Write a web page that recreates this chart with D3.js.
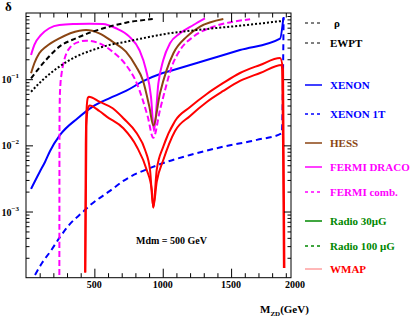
<!DOCTYPE html>
<html>
<head>
<meta charset="utf-8">
<script src="https://cdn.jsdelivr.net/npm/d3@7"></script>
<style>
body{margin:0;background:#fff;}
text{font-family:"Liberation Serif","Times New Roman",serif;font-weight:bold;}
</style>
</head>
<body>
<svg id="plot" width="415" height="320"></svg>
<script>
// curves: [M_ZD (GeV), delta]
var rhoCurve = [[37,0.103],[146,0.195],[244,0.310],[366,0.415],[488,0.522],[607,0.621],[731,0.713],[927,0.811]];
var ewptCurve = [[37,0.0647],[122,0.0973],[244,0.155],[366,0.219],[488,0.276],[609,0.329],[731,0.368],[854,0.415],
    [1000,0.475],[1322,0.573],[1565,0.643],[1880,0.760]];
var xenonCurve = [[37,0.0022],[100,0.00396],[139,0.00561],[176,0.00822],[249,0.01436],[378,0.0257],[488,0.0385],
    [609,0.0514],[731,0.0664],[853,0.0923],[1000,0.124],[1078,0.138],[1322,0.195],[1565,0.276],[1858,0.41],[1882,0.84]];
var xenon1tCurve = [[66,1.10e-4],[117,1.67e-4],[176,2.45e-4],[249,4.13e-4],[322,6.5e-4],[419,9.96e-4],[468,1.24e-3],
    [614,2.05e-3],[712,2.90e-3],[956,4.97e-3],[1200,7.16e-3],[1443,9.55e-3],[1688,1.21e-2],[1871,1.52e-2],[1884,0.87]];
var hessCurve = [[37,0.123],[61,0.174],[97,0.246],[146,0.310],[244,0.415],[390,0.541],[439,0.553],[536,0.493],
    [634,0.368],[731,0.260],[805,0.155],[854,0.0973],[902,0.0385],[931,0.020],[980,0.0612],[1029,0.138],
    [1078,0.246],[1176,0.439],[1273,0.621],[1443,0.811]];
var dracoCurve = [[37,0.232],[61,0.329],[110,0.466],[170,0.588],[244,0.659],[366,0.682],[463,0.69],[561,0.682],
    [658,0.588],[756,0.439],[829,0.276],[878,0.138],[914,0.0544],[936,0.0165],[968,0.0867],[1004,0.195],
    [1053,0.348],[1127,0.493],[1224,0.659],[1309,0.832]];
var combCurve = [[244,1.1e-4],[245,0.02],[247,0.05],[252,0.085],[260,0.12],[280,0.195],[317,0.293],[390,0.368],
    [439,0.382],[536,0.348],[634,0.260],[731,0.164],[805,0.0916],[854,0.0485],[890,0.0272],[931,0.0130],
    [980,0.0343],[1017,0.0687],[1066,0.155],[1127,0.276],[1224,0.439],[1370,0.621],[1516,0.740],[1639,0.803]];
var wmapUpper = [[432,1.2e-4],[437,0.01],[443,0.035],[452,0.052],[460,0.0544],[536,0.0457],[634,0.0363],
    [712,0.0257],[810,0.0152],[871,0.00853],[907,0.00425],[931,0.00115],[956,0.00425],[1004,0.00955],
    [1090,0.0234],[1200,0.0380],[1322,0.0598],[1443,0.0877],[1565,0.124],[1712,0.164],[1858,0.209],
    [1880,0.138],[1890,1.4e-4]];
var wmapLower = [[434,1.2e-4],[442,0.02],[452,0.036],[466,0.040],[536,0.033],[590,0.0272],[712,0.0181],
    [810,0.00955],[883,0.00425],[920,0.00212],[931,0.00115],[956,0.0028],[1004,0.0060],[1090,0.0165],
    [1200,0.0278],[1322,0.0453],[1443,0.0664],[1565,0.094],[1712,0.124],[1871,0.164],[1886,1.4e-4]];

var legendLabels = ["\u03c1","EWPT","XENON","XENON 1T","HESS","FERMI DRACO","FERMI comb.","Radio 30\u03bcG","Radio 100 \u03bcG","WMAP"];
var xTickLabels = [500,1000,1500,2000];
var yTickExps = [-1,-2,-3];

var W = 415, H = 320;
var svg = d3.select('#plot');
var x = d3.scaleLinear().domain([0,1938]).range([26,291]);
var y = d3.scaleLog().domain([1e-4,1]).range([277.7,13]);

// styles per series
var styles = {
    rho:   {color:"#000",    dash:"5,3", w:2},
    ewpt:  {color:"#000",    dash:"2,2", w:2},
    xenon: {color:"#0000ff", dash:null,  w:2},
    xe1t:  {color:"#0000ff", dash:"6,4", w:2},
    hess:  {color:"#8b4513", dash:null,  w:2},
    draco: {color:"#ff00ff", dash:null,  w:2},
    comb:  {color:"#ff00ff", dash:"6,3", w:2},
    r30:   {color:"#008800", dash:null,  w:2},
    r100:  {color:"#008800", dash:"4,3", w:2},
    wmap:  {color:"#ff0000", dash:null,  w:2}
};

svg.append('defs').append('clipPath').attr('id','frameclip')
    .append('rect').attr('x',26).attr('y',13).attr('width',265).attr('height',264.7);

var line = d3.line().x(function(d){return x(d[0]);}).y(function(d){return y(d[1]);})
    .curve(d3.curveMonotoneX);

var curves = svg.append('g').attr('clip-path','url(#frameclip)');
var drawCurve = function(data,st){
    curves.append('path').datum(data)
        .attr('d',line).attr('fill','none')
        .attr('stroke',st.color).attr('stroke-width',st.w)
        .attr('stroke-dasharray',st.dash)
        .attr('stroke-linejoin','round');
};
drawCurve(xenon1tCurve,styles.xe1t);
drawCurve(xenonCurve,styles.xenon);
drawCurve(wmapLower,styles.wmap);
drawCurve(wmapUpper,styles.wmap);
drawCurve(combCurve,styles.comb);
drawCurve(dracoCurve,styles.draco);
drawCurve(hessCurve,styles.hess);
drawCurve(ewptCurve,styles.ewpt);
drawCurve(rhoCurve,styles.rho);

// ticks, ROOT style (inside the frame, on all four sides)
var xMinor = d3.range(100,1939,100).filter(function(v){return v%500 != 0;});
var xMajor = [500,1000,1500];
var yMajor = [1e-3,1e-2,1e-1];
var yMinor = [];
[-4,-3,-2,-1].forEach(function(e){
    for(var k=2;k<10;k++) yMinor.push(k*Math.pow(10,e));
});
var tickAxis = function(axisFn,scale,vals,size,tx,ty){
    var g = svg.append('g').attr('transform','translate('+tx+','+ty+')')
        .call(axisFn(scale).tickValues(vals).tickSize(size).tickFormat(''));
    g.select('.domain').remove();
    g.selectAll('line').attr('stroke','#000').attr('stroke-width',1);
};
tickAxis(d3.axisBottom,x,xMajor,-9,0,277.7);
tickAxis(d3.axisBottom,x,xMinor,-4.5,0,277.7);
tickAxis(d3.axisTop,x,xMajor,-9,0,13);
tickAxis(d3.axisTop,x,xMinor,-4.5,0,13);
tickAxis(d3.axisLeft,y,yMajor,-7,26,0);
tickAxis(d3.axisLeft,y,yMinor,-3.5,26,0);
tickAxis(d3.axisRight,y,yMajor,-7,291,0);
tickAxis(d3.axisRight,y,yMinor,-3.5,291,0);

svg.append('rect').attr('x',26).attr('y',13).attr('width',265).attr('height',264.7)
    .attr('fill','none').attr('stroke','#000').attr('stroke-width',1);

// tick labels
svg.selectAll('text.xlab').data(xTickLabels).enter().append('text')
    .attr('class','xlab')
    .attr('x',function(d){return Math.min(x(d),295);}).attr('y',288)
    .attr('text-anchor','middle').attr('font-size',10)
    .text(function(d){return d;});

var ylab = svg.selectAll('text.ylab').data(yTickExps).enter().append('text')
    .attr('class','ylab')
    .attr('x',19).attr('y',function(d){return y(Math.pow(10,d))+4;})
    .attr('text-anchor','end').attr('font-size',10);
ylab.append('tspan').text('10');
ylab.append('tspan').attr('dy',-5).attr('font-size',7)
    .text(function(d){return '\u2212'+(-d);});

// axis titles
svg.append('text').attr('x',5).attr('y',11).attr('font-size',13)
    .attr('font-weight','normal').text('\u03b4');
var xt = svg.append('text').attr('x',260).attr('y',313).attr('font-size',11);
xt.append('tspan').text('M');
xt.append('tspan').attr('dy',3).attr('font-size',7).text('ZD');
xt.append('tspan').attr('dy',-3).text('(GeV)');

svg.append('text').attr('x',136).attr('y',244).attr('font-size',10)
    .text('Mdm = 500 GeV');

// legend
var legendKeys = ['rho','ewpt','xenon','xe1t','hess','draco','comb','r30','r100','wmap'];
var legendY = [23,43,85,114,143,167,192,221,246,269];
var legendTextColors = ["#000","#000","#0000ff","#0000ff","#8b4513","#ff00ff","#ff00ff","#008800","#008800","#ff0000"];
var leg = svg.append('g');
legendLabels.forEach(function(lbl,i){
    var st = styles[legendKeys[i]];
    var lw = (i<2)?1:1.5;
    var col = st.color;
    if(legendKeys[i]=='wmap'){ col = '#ff7070'; lw = 1; }
    leg.append('line').attr('x1',305).attr('x2',322)
        .attr('y1',legendY[i]).attr('y2',legendY[i])
        .attr('stroke',col).attr('stroke-width',lw)
        .attr('stroke-dasharray',st.dash?'3,3':null);
    leg.append('text').attr('x',(i==0)?334:330).attr('y',legendY[i]+4)
        .attr('font-size',11).attr('fill',legendTextColors[i])
        .text(lbl);
});
</script>
</body>
</html>
